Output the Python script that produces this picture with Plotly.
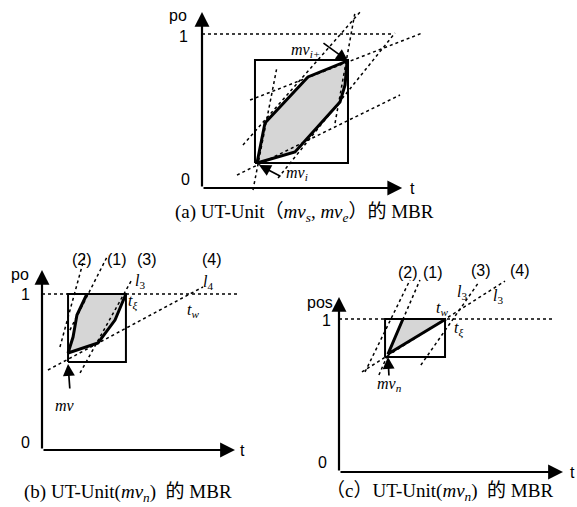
import plotly.graph_objects as go

# ---------------- data (panel units: t along x, po = position, po=1 at dotted line) ----------------
# panel (a): UT-Unit(mv_s, mv_e)
A_AXIS_TIP = [1.30, 1.143]          # t-axis end, po-axis end
A_ONE_T = [0.0, 1.24]
A_BOX_T = [0.344, 0.948, 0.948, 0.344, 0.344]
A_BOX_PO = [0.162, 0.162, 0.831, 0.831, 0.162]
A_POLY_T = [0.357, 0.409, 0.688, 0.942, 0.929, 0.896, 0.604, 0.357]
A_POLY_PO = [0.162, 0.422, 0.721, 0.825, 0.669, 0.558, 0.234, 0.162]
A_DOT_T = [[0.331, 0.487], [0.227, 1.286], [0.266, 1.026], [0.312, 1.429], [0.864, 0.994], [0.494, 1.253]]
A_DOT_PO = [[-0.013, 0.786], [0.084, 0.604], [0.279, 1.143], [0.571, 1.006], [0.422, 1.143], [0.065, 1.006]]
A_ARROWS = [[0.948, 0.825, 0.779, 0.948], [0.370, 0.149, 0.519, 0.071]]   # tip t, tip po, tail t, tail po
A_AXIS_TEXT = [["po", -0.156, 1.123], ["1", -0.123, 0.981], ["0", -0.110, 0.052], ["t", 1.364, 0.0]]
A_MATH_TEXT = [["<i>mv<sub>i+</sub></i>", 0.675, 0.896], ["<i>mv<sub>i</sub></i>", 0.617, 0.097]]

# panel (b): UT-Unit(mv_n)
B_AXIS_TIP = [1.237, 1.154]
B_ONE_T = [0.0, 1.25]
B_BOX_T = [0.167, 0.538, 0.538, 0.167, 0.167]
B_BOX_PO = [0.564, 0.564, 1.0, 1.0, 0.564]
B_POLY_T = [0.288, 0.224, 0.199, 0.167, 0.359, 0.468, 0.538]
B_POLY_PO = [1.0, 0.865, 0.724, 0.622, 0.686, 0.833, 1.0]
B_DOT_T = [[0.115, 0.276], [0.179, 0.423], [0.244, 0.571], [0.038, 1.032]]
B_DOT_PO = [[0.660, 1.250], [0.769, 1.250], [0.494, 1.083], [0.513, 1.045]]
B_ARROWS = [[0.167, 0.551, 0.179, 0.385]]
B_AXIS_TEXT = [["po", -0.141, 1.122], ["1", -0.109, 1.0], ["0", -0.109, 0.051], ["t", 1.288, 0.0],
               ["(2)", 0.256, 1.218], ["(1)", 0.481, 1.218], ["(3)", 0.673, 1.218], ["(4)", 1.090, 1.218]]
B_MATH_TEXT = [["<i>l</i><sub>3</sub>", 0.628, 1.077], ["<i>l</i><sub>4</sub>", 1.064, 1.071],
               ["<i>t<sub>ξ</sub></i>", 0.583, 0.949], ["<i>t<sub>w</sub></i>", 0.968, 0.897],
               ["<i>mv</i>", 0.147, 0.288]]

# panel (c): UT-Unit(mv_n)
C_AXIS_TIP = [1.464, 1.144]
C_ONE_T = [0.0, 1.412]
C_BOX_T = [0.301, 0.693, 0.693, 0.301, 0.301]
C_BOX_PO = [0.752, 0.752, 1.0, 1.0, 0.752]
C_TRI_T = [0.418, 0.320, 0.699]
C_TRI_PO = [1.0, 0.771, 1.0]
C_DOT_T = [[0.170, 0.464], [0.261, 0.529], [0.535, 0.915], [0.150, 1.085]]
C_DOT_PO = [[0.654, 1.255], [0.634, 1.255], [0.699, 1.242], [0.654, 1.248]]
C_ARROWS = [[0.320, 0.752, 0.327, 0.621]]
C_AXIS_TEXT = [["pos", -0.124, 1.111], ["1", -0.085, 0.993], ["0", -0.105, 0.059], ["t", 1.523, 0.0],
               ["(2)", 0.451, 1.307], ["(1)", 0.614, 1.307], ["(3)", 0.928, 1.314], ["(4)", 1.183, 1.314]]
C_MATH_TEXT = [["<i>l</i><sub>3</sub>", 0.805, 1.176], ["<i>l</i><sub>3</sub>", 1.039, 1.150],
               ["<i>t<sub>w</sub></i>", 0.673, 1.068], ["<i>t<sub>ξ</sub></i>", 0.778, 0.935],
               ["<i>mv<sub>n</sub></i>", 0.333, 0.575]]

CAPTIONS = ["(a) UT-Unit（<i>mv<sub>s</sub></i>, <i>mv<sub>e</sub></i>）的 MBR",
            "(b) UT-Unit(<i>mv<sub>n</sub></i>)  的 MBR",
            "（c）UT-Unit(<i>mv<sub>n</sub></i>)  的 MBR"]

# ---------------- layout frames (pixel origin and pixels per unit) ----------------
W, H = 577, 507
FRAMES = {"a": (202, 188, 154), "b": (42, 450, 156), "c": (339, 472, 153)}
AX_IDS = {"a": ("x", "y"), "b": ("x2", "y2"), "c": ("x3", "y3")}
CAPTION_POS = [(304, 213), (128, 493), (439, 492)]

SANS = "Liberation Sans, Arial, sans-serif"
SERIF = "Liberation Serif, Times New Roman, Noto Sans CJK SC, serif"
CAP_FONT = "Liberation Serif, Noto Sans CJK SC, serif"
FILL = "#d6d6d6"

fig = go.Figure()
annotations = []


def add_panel(key, tip, one_t, box_t, box_po, dot_t, dot_po, arrows, axis_text, math_text,
              shade_t, shade_po):
    xa, ya = AX_IDS[key]
    fig.add_trace(go.Scatter(x=one_t, y=[1, 1], mode="lines", xaxis=xa, yaxis=ya,
                             line=dict(color="black", width=1.6, dash="dot"), hoverinfo="skip"))
    fig.add_trace(go.Scatter(x=shade_t, y=shade_po, mode="lines", fill="toself", fillcolor=FILL,
                             xaxis=xa, yaxis=ya, line=dict(color="black", width=3), hoverinfo="skip"))
    fig.add_trace(go.Scatter(x=box_t, y=box_po, mode="lines", xaxis=xa, yaxis=ya,
                             line=dict(color="black", width=2), hoverinfo="skip"))
    for ts, ps in zip(dot_t, dot_po):
        fig.add_trace(go.Scatter(x=ts, y=ps, mode="lines", xaxis=xa, yaxis=ya,
                                 line=dict(color="black", width=1.5, dash="dot"), hoverinfo="skip"))
    for tx, ty in [(tip[0], 0), (0, tip[1])]:
        annotations.append(dict(x=tx, y=ty, ax=0, ay=0, xref=xa, yref=ya, axref=xa, ayref=ya,
                                text="", showarrow=True, arrowhead=2, arrowsize=1.35,
                                arrowwidth=2.2, arrowcolor="black", standoff=0))
    for tt, tp, at, ap in arrows:
        annotations.append(dict(x=tt, y=tp, ax=at, ay=ap, xref=xa, yref=ya, axref=xa, ayref=ya,
                                text="", showarrow=True, arrowhead=2, arrowsize=1.4,
                                arrowwidth=1.7, arrowcolor="black", standoff=0))
    for txt, tt, tp in axis_text:
        annotations.append(dict(x=tt, y=tp, xref=xa, yref=ya, text=txt, showarrow=False,
                                xanchor="center", yanchor="middle",
                                font=dict(family=SANS, size=16, color="black")))
    for txt, tt, tp in math_text:
        annotations.append(dict(x=tt, y=tp, xref=xa, yref=ya, text=txt, showarrow=False,
                                xanchor="center", yanchor="middle",
                                font=dict(family=SERIF, size=16, color="black")))


add_panel("a", A_AXIS_TIP, A_ONE_T, A_BOX_T, A_BOX_PO, A_DOT_T, A_DOT_PO, A_ARROWS,
          A_AXIS_TEXT, A_MATH_TEXT, A_POLY_T, A_POLY_PO)
add_panel("b", B_AXIS_TIP, B_ONE_T, B_BOX_T, B_BOX_PO, B_DOT_T, B_DOT_PO, B_ARROWS,
          B_AXIS_TEXT, B_MATH_TEXT, B_POLY_T, B_POLY_PO)
add_panel("c", C_AXIS_TIP, C_ONE_T, C_BOX_T, C_BOX_PO, C_DOT_T, C_DOT_PO, C_ARROWS,
          C_AXIS_TEXT, C_MATH_TEXT, C_TRI_T, C_TRI_PO)

for txt, (cx, cy) in zip(CAPTIONS, CAPTION_POS):
    annotations.append(dict(x=cx / W, y=1 - cy / H, xref="paper", yref="paper", text=txt,
                            xanchor="center", yanchor="middle", showarrow=False,
                            font=dict(family=CAP_FONT, size=19, color="black")))

layout_axes = {}
for key, (ox, oy, s) in FRAMES.items():
    xa, ya = AX_IDS[key]
    xname = "xaxis" if xa == "x" else "xaxis" + xa[1:]
    yname = "yaxis" if ya == "y" else "yaxis" + ya[1:]
    xd = dict(range=[-ox / s, (W - ox) / s], visible=False, domain=[0, 1], anchor=ya, fixedrange=True)
    yd = dict(range=[(oy - H) / s, oy / s], visible=False, domain=[0, 1], anchor=xa, fixedrange=True)
    if xa != "x":
        xd["overlaying"] = "x"
        yd["overlaying"] = "y"
    layout_axes[xname] = xd
    layout_axes[yname] = yd

fig.update_layout(width=W, height=H, margin=dict(l=0, r=0, t=0, b=0), autosize=False,
                  showlegend=False, plot_bgcolor="white", paper_bgcolor="white",
                  annotations=annotations, **layout_axes)

fig.write_html("out.html", config={"displayModeBar": False},
               post_script="document.body.style.margin='0px';")
